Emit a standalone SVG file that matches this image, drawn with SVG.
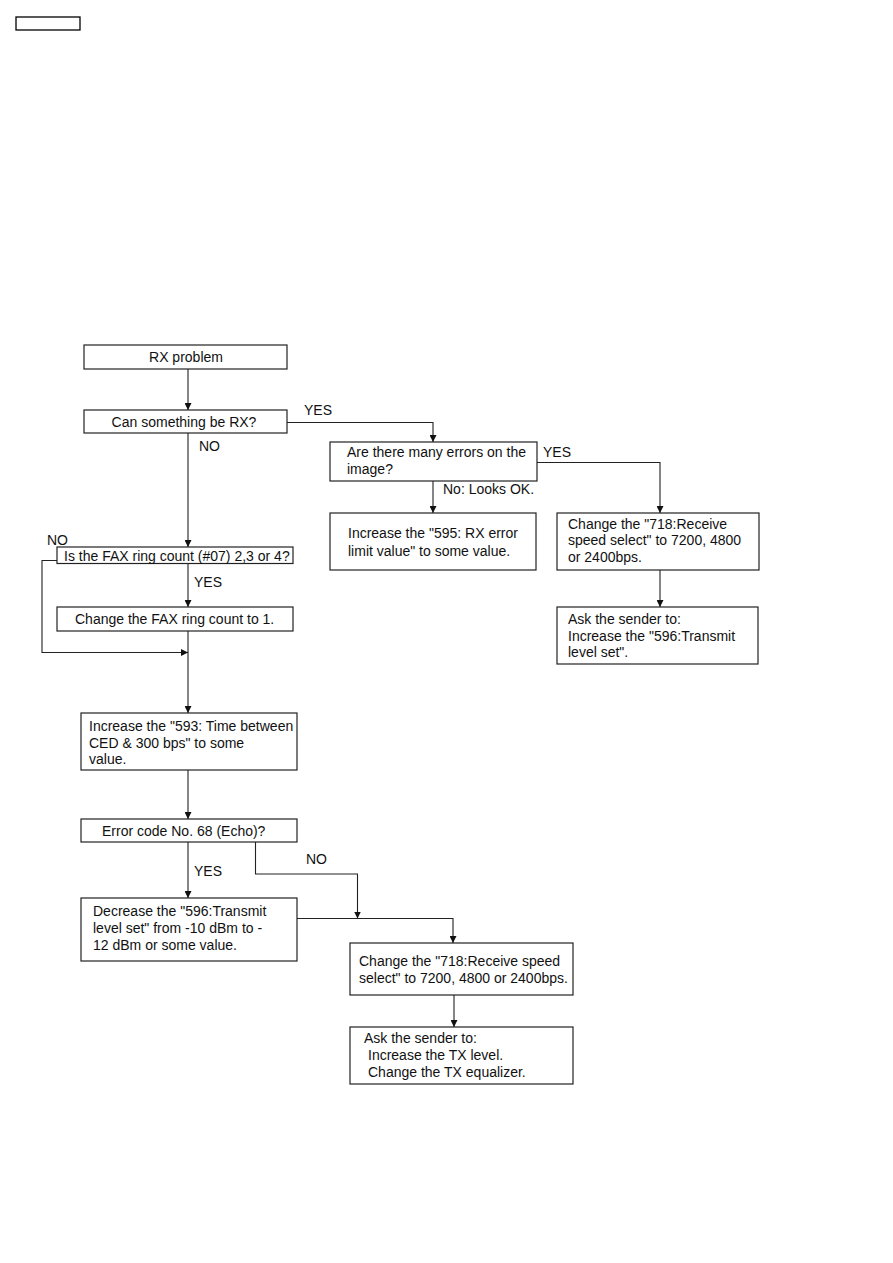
<svg xmlns="http://www.w3.org/2000/svg" width="893" height="1263" viewBox="0 0 893 1263">
<style>
.box{fill:#fff;stroke:#222;stroke-width:1.2}
.t{font-family:"Liberation Sans",Arial,sans-serif;font-size:14px;fill:#111}
.c{text-anchor:middle}
.ln{fill:none;stroke:#222;stroke-width:1.1}
</style>
<defs>
<marker id="ah" markerUnits="userSpaceOnUse" markerWidth="7" markerHeight="7" refX="7" refY="3.5" orient="auto">
<path d="M0,0 L7,3.5 L0,7 z" fill="#111"/>
</marker>
</defs>
<rect width="893" height="1263" fill="#fff"/>
<g id="header"><rect x="16" y="17" width="64" height="13" fill="none" stroke="#000" stroke-width="1.3"/></g>
<g id="connectors">
<line class="ln" x1="188" y1="369" x2="188" y2="410" marker-end="url(#ah)"/>
<polyline class="ln" points="287,422.5 433,422.5 433,442" marker-end="url(#ah)"/>
<polyline class="ln" points="537,462.5 660,462.5 660,513" marker-end="url(#ah)"/>
<line class="ln" x1="433" y1="481" x2="433" y2="513" marker-end="url(#ah)"/>
<line class="ln" x1="660" y1="570" x2="660" y2="607" marker-end="url(#ah)"/>
<line class="ln" x1="188" y1="433" x2="188" y2="547" marker-end="url(#ah)"/>
<line class="ln" x1="188" y1="563" x2="188" y2="607" marker-end="url(#ah)"/>
<polyline class="ln" points="57,560.5 42,560.5 42,652.5 188,652.5" marker-end="url(#ah)"/>
<line class="ln" x1="188" y1="631" x2="188" y2="713" marker-end="url(#ah)"/>
<line class="ln" x1="188" y1="770" x2="188" y2="819" marker-end="url(#ah)"/>
<line class="ln" x1="188" y1="842" x2="188" y2="898" marker-end="url(#ah)"/>
<polyline class="ln" points="255.5,842 255.5,874 357.5,874 357.5,918.5" marker-end="url(#ah)"/>
<polyline class="ln" points="297,918.5 453,918.5 453,943" marker-end="url(#ah)"/>
<line class="ln" x1="454" y1="995" x2="454" y2="1027" marker-end="url(#ah)"/>
</g>
<g id="labels">
<text class="t" x="304" y="415">YES</text>
<text class="t" x="199" y="451">NO</text>
<text class="t" x="543" y="457">YES</text>
<text class="t" x="443" y="494">No: Looks OK.</text>
<text class="t" x="47" y="545">NO</text>
<text class="t" x="194" y="587">YES</text>
<text class="t" x="306" y="864">NO</text>
<text class="t" x="194" y="876">YES</text>
</g>
<g id="rx-problem"><rect class="box" x="84" y="345" width="203" height="24"/><text class="t c" x="186" y="362">RX problem</text></g>
<g id="can-rx"><rect class="box" x="84" y="410" width="203" height="23"/><text class="t c" x="184" y="426.5">Can something be RX?</text></g>
<g id="many-errors"><rect class="box" x="330" y="442" width="207" height="39"/><text class="t" x="347" y="457">Are there many errors on the</text><text class="t" x="347" y="473.5">image?</text></g>
<g id="inc-595"><rect class="box" x="330" y="513" width="206" height="57"/><text class="t" x="348" y="538">Increase the "595: RX error</text><text class="t" x="348" y="555.5">limit value" to some value.</text></g>
<g id="chg-718-a"><rect class="box" x="557" y="513" width="202" height="57"/><text class="t" x="568" y="528.5">Change the "718:Receive</text><text class="t" x="568" y="545">speed select" to 7200, 4800</text><text class="t" x="568" y="561.5">or 2400bps.</text></g>
<g id="ask-a"><rect class="box" x="557" y="607" width="201" height="57"/><text class="t" x="568" y="624">Ask the sender to:</text><text class="t" x="568" y="640.5">Increase the "596:Transmit</text><text class="t" x="568" y="657">level set".</text></g>
<g id="ring-count"><rect class="box" x="57" y="547" width="236" height="16.5"/><text class="t" x="64" y="560.5">Is the FAX ring count (#07) 2,3 or 4?</text></g>
<g id="chg-ring"><rect class="box" x="57" y="607" width="236" height="24"/><text class="t" x="75" y="624">Change the FAX ring count to 1.</text></g>
<g id="inc-593"><rect class="box" x="81" y="713" width="216" height="57"/><text class="t" x="89" y="731">Increase the "593: Time between</text><text class="t" x="89" y="747.5">CED &amp; 300 bps" to some</text><text class="t" x="89" y="764">value.</text></g>
<g id="err-68"><rect class="box" x="81" y="819" width="216" height="23"/><text class="t" x="102" y="835.5">Error code No. 68 (Echo)?</text></g>
<g id="dec-596"><rect class="box" x="81" y="898" width="216" height="63"/><text class="t" x="93" y="916">Decrease the "596:Transmit</text><text class="t" x="93" y="933">level set" from -10 dBm to -</text><text class="t" x="93" y="950">12 dBm or some value.</text></g>
<g id="chg-718-b"><rect class="box" x="350" y="943" width="223" height="52"/><text class="t" x="359" y="966">Change the "718:Receive speed</text><text class="t" x="359" y="982.5">select" to 7200, 4800 or 2400bps.</text></g>
<g id="ask-b"><rect class="box" x="350" y="1027" width="223" height="57"/><text class="t" x="364" y="1043">Ask the sender to:</text><text class="t" x="368" y="1060">Increase the TX level.</text><text class="t" x="368" y="1077">Change the TX equalizer.</text></g>
</svg>
